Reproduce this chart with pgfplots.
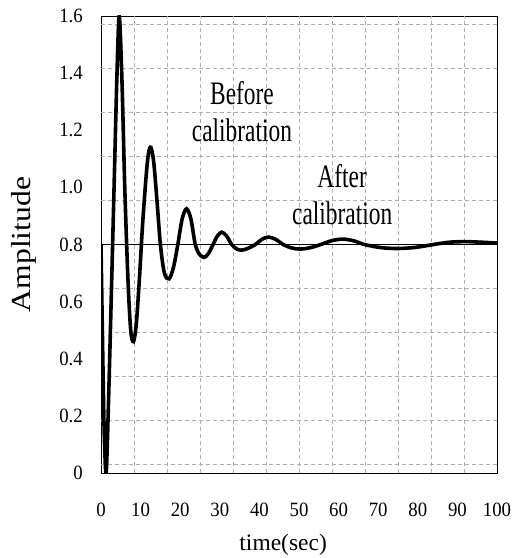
\documentclass[border=0pt]{standalone}
\usepackage{pgfplots}
\pgfplotsset{compat=1.18}
\usepackage{fontspec}
\setmainfont{Liberation Serif}
\newcommand\tl[1]{\scalebox{1}[1.08]{#1}}

\begin{document}
\begin{tikzpicture}
\begin{axis}[
    scale only axis,
    width=396pt, height=457pt,
    xmin=0, xmax=100, ymin=0, ymax=1.6,
    xtick={0,10,20,30,40,50,60,70,80,90,100},
    xticklabels={\tl{0},\tl{10},\tl{20},\tl{30},\tl{40},\tl{50},\tl{60},\tl{70},\tl{80},\tl{90},\tl{100}},
    ytick={0,0.2,0.4,0.6,0.8,1.0,1.2,1.4,1.6},
    yticklabels={\tl{0},\tl{0.2},\tl{0.4},\tl{0.6},\tl{0.8},\tl{1.0},\tl{1.2},\tl{1.4},\tl{1.6}},
    /pgf/number format/assume math mode=true,
    major tick length=0pt,
    tick label style={font=\fontsize{18.8}{20}\selectfont, inner sep=0pt},
    yticklabel style={anchor=east, xshift=-18pt},
    xticklabel style={anchor=north, yshift=-30pt},
    extra x ticks={8.333,16.667,25,33.333,41.667,50,58.333,66.667,75,83.333,91.667},
    extra x tick labels={},
    extra y ticks={0.031,0.185,0.339,0.492,0.646,0.800,0.954,1.108,1.261,1.415,1.569},
    extra y tick labels={},
    extra tick style={grid=major},
    grid style={dash pattern=on 4pt off 3pt, gray!65, line width=0.8pt},
    axis line style={black, line width=0.9pt},
    xlabel={time(sec)},
    xlabel style={font=\fontsize{23.5}{26}\selectfont, at={(axis description cs:0.46,-0.1335)}, anchor=north, inner sep=0pt},
    ylabel={\scalebox{1.15}[1]{Amplitude}},
    ylabel style={font=\fontsize{27.5}{30}\selectfont, at={(axis description cs:-0.194,0.5)}, anchor=center, inner sep=0pt},
]
% reference level
\addplot[black, line width=0.8pt] coordinates {(0,0.8)(100,0.8)};

% step response
\addplot[black, line width=3.6pt, smooth, tension=0.5] coordinates {
    (0,0.80)(0.4,0.45)(0.8,0.15)(1.3,0.0)(1.9,0.25)(2.6,0.62)(3.3,1.0)
    (4.0,1.38)(4.6,1.60)(5.3,1.37)(6.0,1.0)(6.8,0.68)(7.5,0.50)(8.2,0.46)
    (8.9,0.52)(9.7,0.68)(10.5,0.87)(11.4,1.04)(12.0,1.12)(12.6,1.14)
    (13.3,1.09)(14.1,0.96)(15.0,0.80)(16.0,0.70)(17.2,0.68)(18.3,0.72)
    (19.4,0.80)(20.5,0.89)(21.6,0.925)(22.7,0.89)(23.8,0.80)(24.9,0.765)
    (26.1,0.755)(27.2,0.77)(28.3,0.80)(29.4,0.83)(30.5,0.843)(31.7,0.83)
    (33.0,0.80)(34.2,0.785)(35.5,0.78)(37.2,0.787)(39.0,0.80)(40.6,0.818)
    (42.3,0.826)(44.1,0.818)(46.0,0.80)(48.1,0.788)(50.3,0.784)(52.9,0.789)
    (55.5,0.80)(58.2,0.813)(61.0,0.819)(63.8,0.813)(66.5,0.80)(70.7,0.789)
    (75.0,0.786)(79.5,0.79)(84.0,0.80)(88.0,0.808)(92.0,0.81)(96.0,0.808)
    (100.0,0.805)
};

\node[font=\fontsize{23.4}{26.4}\selectfont, inner sep=0pt] at (axis cs:35.6,1.25)
    {\scalebox{1}[1.4]{\begin{tabular}{@{}c@{}}Before\\calibration\end{tabular}}};
\node[font=\fontsize{23.4}{26.4}\selectfont, inner sep=0pt] at (axis cs:60.9,0.96)
    {\scalebox{1}[1.4]{\begin{tabular}{@{}c@{}}After\\calibration\end{tabular}}};

\coordinate (ll) at (rel axis cs:0,0);
\coordinate (ur) at (rel axis cs:1,1);
\end{axis}
\pgfresetboundingbox
\path ([shift={(-101pt,-85pt)}]ll) rectangle ([shift={(15pt,16pt)}]ur);
\end{tikzpicture}
\end{document}
